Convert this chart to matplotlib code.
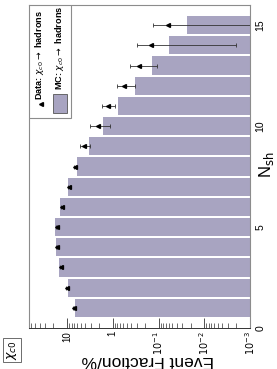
import numpy as np
import matplotlib
matplotlib.use("Agg")
import matplotlib.pyplot as plt
from matplotlib.patches import Rectangle
from matplotlib.ticker import LogLocator, FixedLocator

plt.rcParams['font.family'] = ['Liberation Sans', 'DejaVu Sans']

# chart data (rotated view: N_sh runs up the right side, fraction along the bottom)
n_sh = np.arange(1, 16)
mc_frac = [6.7, 9.7, 14.7, 17.9, 18.2, 14.0, 9.7, 6.05, 3.27, 1.62, 0.77, 0.33, 0.14, 0.057, 0.0227]
data_frac = [7.15, 10.0, 13.5, 17.0, 17.0, 12.9, 9.2, 6.7, 4.2, 2.15, 1.3, 0.58, 0.27, 0.147, 0.062]
data_err = [0.25, 0.35, 0.45, 0.55, 0.55, 0.5, 0.45, 0.45, 1.1, 1.0, 0.4, 0.25, 0.16, 0.145, 0.068]
nsh_ticks = [0, 5, 10, 15]
frac_ticks = [10, 1, 0.1, 0.01, 0.001]
frac_labels = ['10', '1', r'$10^{-1}$', r'$10^{-2}$', r'$10^{-3}$']

bar_col = '#a8a4c1'
frame_col = '#8c8c8c'

fig = plt.figure(figsize=(2.77, 3.69), dpi=100)
ax = fig.add_axes([29/277, 1 - 328/369, 221/277, 323/369])

ax.barh(n_sh, mc_frac, height=0.9, left=1e-3, color=bar_col, zorder=1)
ax.errorbar(data_frac, n_sh, xerr=data_err, fmt='<', color='black', ms=2.8,
            elinewidth=0.6, ecolor='#333333', capsize=1.5, capthick=0.6, zorder=3)

ax.set_xscale('log')
ax.set_xlim(68, 1e-3)
ax.set_ylim(0, 16)

# fraction axis (bottom)
ax.xaxis.set_major_locator(FixedLocator(frac_ticks))
ax.set_xticklabels(frac_labels, rotation=90, fontsize=7)
ax.xaxis.set_minor_locator(LogLocator(base=10, subs=np.arange(2, 10), numticks=20))
ax.tick_params(axis='x', which='major', direction='in', length=7, width=0.6, color='#333333', pad=2)
ax.tick_params(axis='x', which='minor', direction='in', length=3.5, width=0.5, color='#333333')
ax.tick_params(axis='x', which='minor', labelbottom=False)
fig.text(148/277, 1 - 360/369, 'Event Fraction/%', fontsize=12.5, rotation=180,
         ha='center', va='center')

# N_sh axis (right)
ax.yaxis.tick_right()
ax.set_yticks(nsh_ticks)
ax.set_yticklabels([str(t) for t in nsh_ticks], rotation=90, va='center', fontsize=7.5)
ax.tick_params(axis='y', length=0, pad=4)
fig.text(267/277, 1 - 165/369, r'N$_{\rm sh}$', fontsize=12, rotation=90,
         ha='center', va='center')

for s in ['left', 'top', 'right']:
    ax.spines[s].set_color(frame_col)
    ax.spines[s].set_linewidth(0.8)
ax.spines['bottom'].set_color('#333333')
ax.spines['bottom'].set_linewidth(0.7)

# legend, drawn by hand so it can be rotated with the rest
ax.add_patch(Rectangle((0, 0.65), 0.19, 0.35, transform=ax.transAxes, facecolor='white',
                       edgecolor=frame_col, linewidth=0.8, zorder=4))
ax.plot([0.054], [0.693], marker='<', color='black', ms=2.8, transform=ax.transAxes, zorder=5)
ax.add_patch(Rectangle((0.109, 0.666), 0.063, 0.058, transform=ax.transAxes, facecolor=bar_col,
                       edgecolor='#555555', linewidth=0.6, zorder=5))
ax.text(0.0475, 0.706, r'Data: $\chi_{c0}\rightarrow$ hadrons', transform=ax.transAxes,
        rotation=90, ha='center', va='bottom', fontsize=6.6, fontweight='bold', zorder=5)
ax.text(0.14, 0.737, r'MC: $\chi_{c0}\rightarrow$ hadrons', transform=ax.transAxes,
        rotation=90, ha='center', va='bottom', fontsize=6.6, fontweight='bold', zorder=5)

fig.text(12/277, 1 - 350/369, r'$\chi_{c0}$', rotation=90, ha='center', va='center', fontsize=9,
         bbox=dict(boxstyle='square,pad=0.15', facecolor='white', edgecolor='#555555', linewidth=0.6))

fig.savefig('out.png', dpi=100)
